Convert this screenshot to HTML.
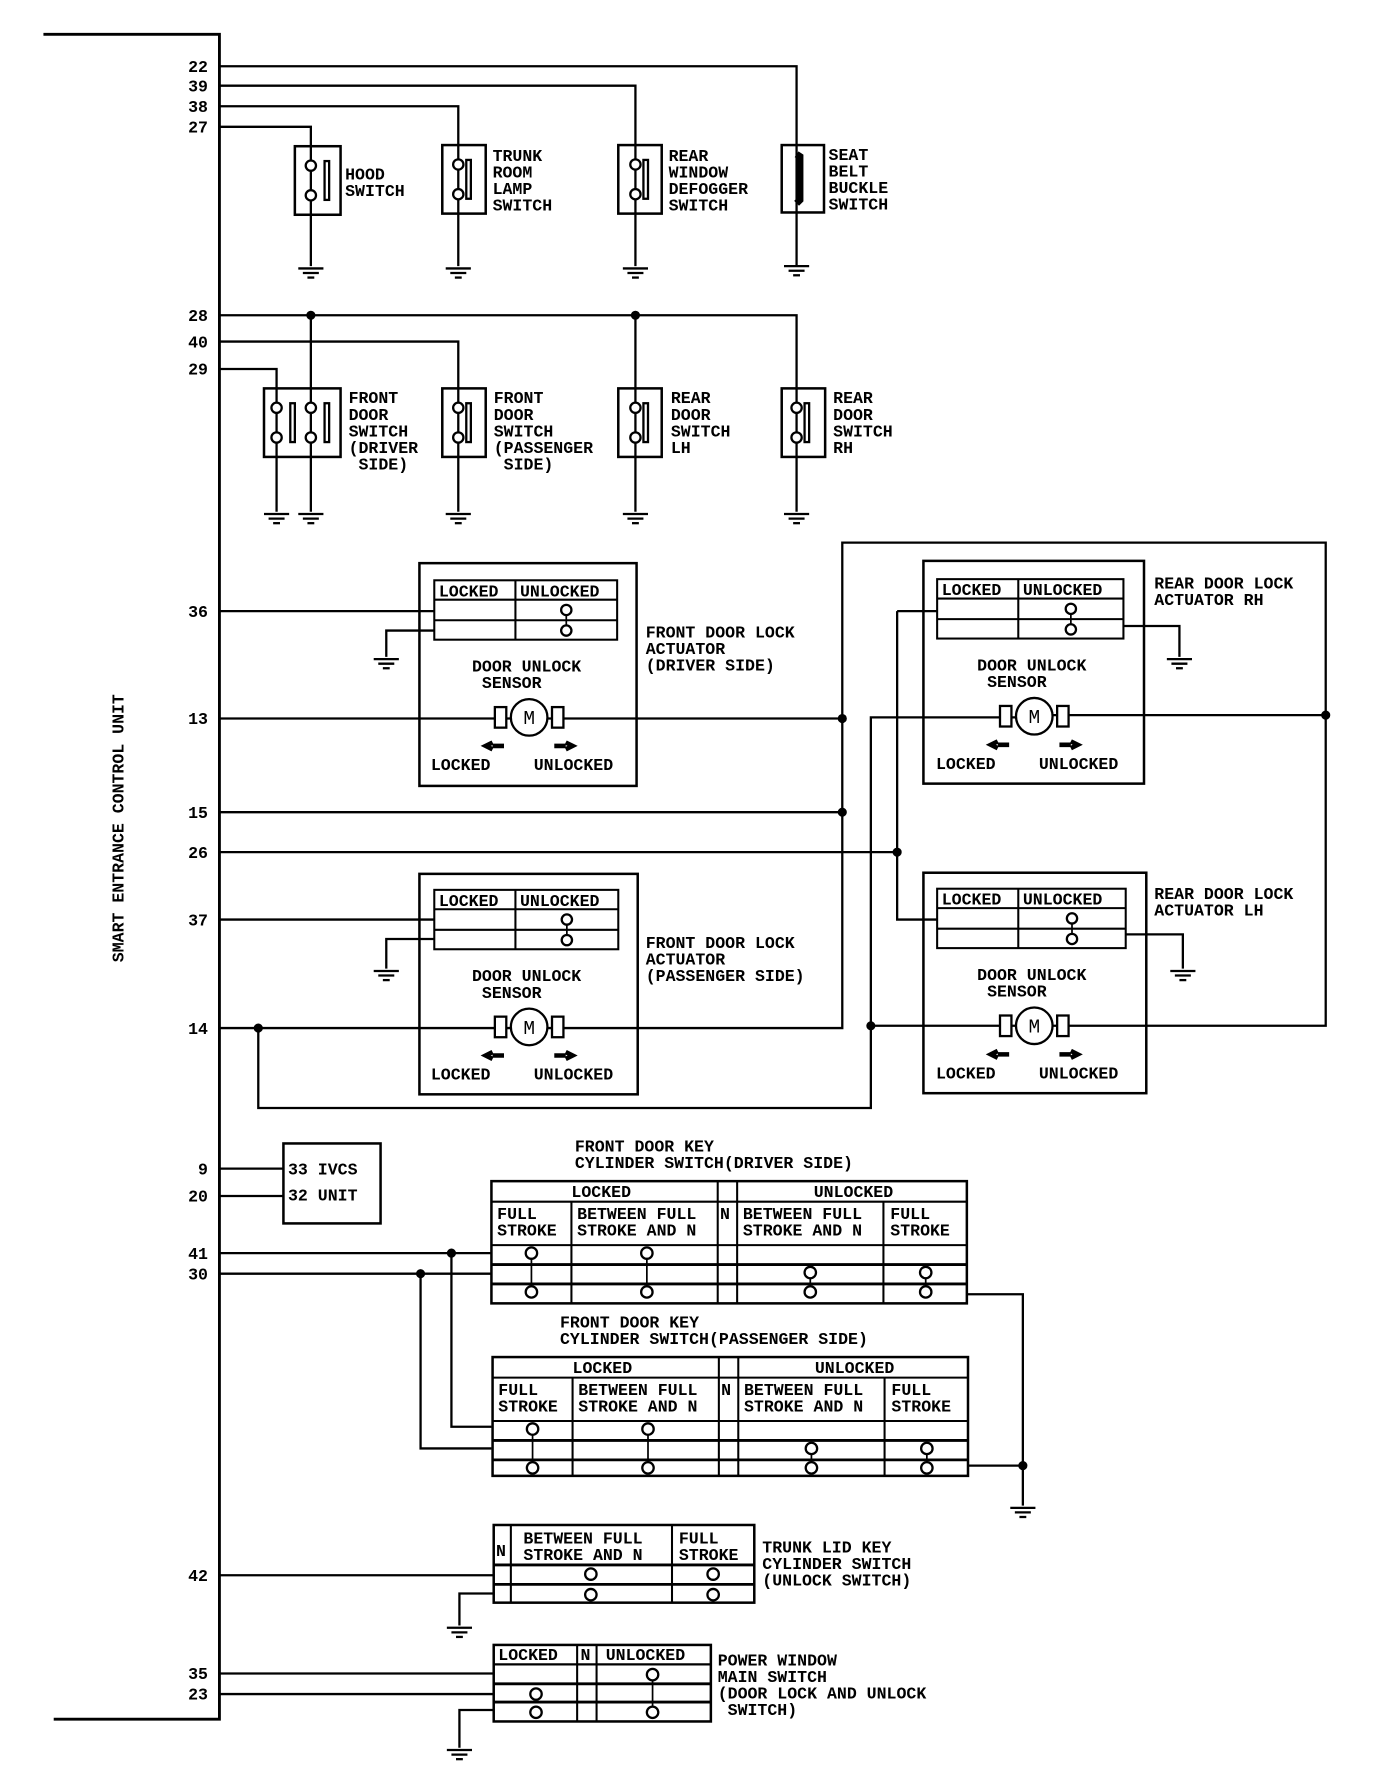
<!DOCTYPE html>
<html><head><meta charset="utf-8"><style>
html,body{margin:0;padding:0;background:#fff;width:1376px;height:1790px;overflow:hidden}
svg{display:block}
text{font-family:"Liberation Mono",monospace;font-weight:bold;font-size:14.5px;fill:#000}
</style></head><body>
<svg id="s" width="1376" height="1790" viewBox="0 0 1204 1567" preserveAspectRatio="none" xmlns="http://www.w3.org/2000/svg"></svg>
<script>
var o='';
function L(p,w){o+='<polyline points="'+p+'" fill="none" stroke="#000" stroke-width="'+(w||2)+'"/>';}
function R(x,y,w,h,sw){o+='<rect x="'+x+'" y="'+y+'" width="'+w+'" height="'+h+'" fill="none" stroke="#000" stroke-width="'+(sw||2.2)+'"/>';}
function C(x,y,r,f){o+='<circle cx="'+x+'" cy="'+y+'" r="'+r+'" fill="'+(f||'#fff')+'" stroke="#000" stroke-width="2"/>';}
function D(x,y){C(x,y,3,'#000');}
function T(x,y,s,a){var ls=s.split('|');for(var i=0;i<ls.length;i++)o+='<text x="'+x+'" y="'+(y+i*14.5)+'"'+(a?' text-anchor="'+a+'"':'')+'>'+ls[i].replace(/ /g,'&#160;')+'</text>';}
function G(x,y){L(x-11+','+y+' '+(x+11)+','+y);L(x-7+','+(y+4)+' '+(x+7)+','+(y+4));L(x-3+','+(y+8)+' '+(x+3)+','+(y+8));}
function P(n,y){T(182,y+5,n,'end');}
L('38,30 192,30 192,1505 47,1505',2.5);
o+='<text transform="translate(108,725) rotate(-90)" text-anchor="middle">SMART ENTRANCE CONTROL UNIT</text>';
P('22',58);P('39',75);P('38',93);P('27',111);
L('192,58 697,58 697,233');L('192,75 556,75 556,233');L('192,93 401,93 401,233');L('192,111 272,111 272,233');
function SW(x,y,w,cx,bx){R(x,y,w,60);C(cx,y+17,4.5);C(cx,y+43,4.5);o+='<rect x="'+bx+'" y="'+(y+13)+'" width="4" height="34" fill="none" stroke="#000" stroke-width="2"/>';}
SW(258,128,40,272,284);SW(387,127,38,401,408);SW(541,127,38,556,563);
R(684,127,37,59);o+='<path d="M697,135 L700,137 L700,175 L697,178" fill="none" stroke="#000" stroke-width="6"/>';
G(272,235);G(401,235);G(556,235);G(697,233);
T(302,157,'HOOD|SWITCH');T(431,141,'TRUNK|ROOM|LAMP|SWITCH');T(585,141,'REAR|WINDOW|DEFOGGER|SWITCH');T(725,140,'SEAT|BELT|BUCKLE|SWITCH');
P('28',276);P('40',299);P('29',323);
L('192,276 697,276 697,448');L('192,299 401,299 401,448');L('192,323 242,323 242,448');L('272,276 272,448');L('556,276 556,448');
D(272,276);D(556,276);
R(231,340,67,60);C(242,357,4.5);C(242,383,4.5);C(272,357,4.5);C(272,383,4.5);
o+='<rect x="254" y="353" width="4" height="34" fill="none" stroke="#000" stroke-width="2"/><rect x="284" y="353" width="4" height="34" fill="none" stroke="#000" stroke-width="2"/>';
SW(387,340,38,401,408);SW(541,340,38,556,563);SW(684,340,38,697,704);
G(242,450);G(272,450);G(401,450);G(556,450);G(697,450);
T(305,353,'FRONT|DOOR|SWITCH|(DRIVER| SIDE)');T(432,353,'FRONT|DOOR|SWITCH|(PASSENGER| SIDE)');T(587,353,'REAR|DOOR|SWITCH|LH');T(729,353,'REAR|DOOR|SWITCH|RH');
function ACT(bx,by,bw,bh,tx,ty,tw,mx,my){R(bx,by,bw,bh);R(tx,ty,tw,52,1.8);L(tx+','+(ty+17)+' '+(tx+tw)+','+(ty+17),1.8);L(tx+','+(ty+35)+' '+(tx+tw)+','+(ty+35),1.8);
var cd=tx+71;L(cd+','+ty+' '+cd+','+(ty+52),1.8);T(tx+4,ty+14,'LOCKED');T(cd+4,ty+14,'UNLOCKED');var cc=cd+(tw-71)/2;L(cc+','+(ty+22)+' '+cc+','+(ty+47),1.5);C(cc,ty+26,4.5);C(cc,ty+44,4.5);
T(mx-50,my-40,'DOOR UNLOCK| SENSOR');o+='<rect x="'+(mx-30)+'" y="'+(my-9)+'" width="10" height="18" fill="#fff" stroke="#000" stroke-width="2"/><rect x="'+(mx+20)+'" y="'+(my-9)+'" width="10" height="18" fill="#fff" stroke="#000" stroke-width="2"/>';C(mx,my,16);o+='<text x="'+mx+'" y="'+(my+6)+'" text-anchor="middle" style="font-size:17px;font-weight:normal">M</text>';
o+='<path d="M'+(mx-22)+','+(my+25)+' l-10,0 m0,-3 l-6,3 l6,3" stroke="#000" stroke-width="4" fill="none"/><path d="M'+(mx+22)+','+(my+25)+' l10,0 m0,-3 l6,3 l-6,3" stroke="#000" stroke-width="4" fill="none"/>';
T(mx-86,my+46,'LOCKED');T(mx+4,my+46,'UNLOCKED');}
P('36',535);P('13',629);P('15',711);P('26',746);P('37',805);P('14',900);
L('192,535 380,535');L('380,552 338,552 338,575');G(338,577);
L('192,629 737,629');L('192,711 737,711');L('192,746 785,746');L('192,805 380,805');L('380,822 338,822 338,848');G(338,850);
L('192,900 737,900 737,475 1160,475 1160,898 905,898');L('226,900 226,970 762,970 762,628 905,628');L('905,626 1160,626');L('762,898 905,898');
L('785,535 820,535');L('785,535 785,805 820,805');L('983,548 1032,548 1032,575');G(1032,577);L('985,818 1035,818 1035,848');G(1035,850);
D(737,629);D(737,711);D(785,746);D(226,900);D(762,898);D(1160,626);
ACT(367,493,190,195,380,508,160,463,628);
ACT(367,765,191,193,380,779,161,463,899);
ACT(808,491,193,195,820,507,163,905,627);
ACT(808,764,195,193,820,778,165,905,898);
T(565,558,'FRONT DOOR LOCK|ACTUATOR|(DRIVER SIDE)');T(565,830,'FRONT DOOR LOCK|ACTUATOR|(PASSENGER SIDE)');
T(1010,515,'REAR DOOR LOCK|ACTUATOR RH');T(1010,787,'REAR DOOR LOCK|ACTUATOR LH');
P('9',1023);P('20',1047);L('192,1023 248,1023');L('192,1047 248,1047');R(248,1001,85,70);T(252,1028,'33 IVCS');T(252,1051,'32 UNIT');
function KEY(x,y,ttl,tx){var r=x+416;var h=y>1100?104:107;R(x,y,416,h);
L(x+','+(y+18)+' '+r+','+(y+18),1.8);L(x+','+(y+56)+' '+r+','+(y+56),1.8);L(x+','+(y+73)+' '+r+','+(y+73),2.5);L(x+','+(y+90)+' '+r+','+(y+90),2.5);
[70,198,215,343].forEach(function(c){L((x+c)+','+(c==198||c==215?y:y+18)+' '+(x+c)+','+(y+h),1.8);});
T(x+70,y+14,'LOCKED');T(x+282,y+14,'UNLOCKED');T(x+5,y+33,'FULL|STROKE');T(x+75,y+33,'BETWEEN FULL|STROKE AND N');T(x+200,y+33,'N');T(x+220,y+33,'BETWEEN FULL|STROKE AND N');T(x+349,y+33,'FULL|STROKE');
[35,136].forEach(function(c){L((x+c)+','+(y+63)+' '+(x+c)+','+(y+97),1.5);C(x+c,y+63,5);C(x+c,y+97,5);});
[279,380].forEach(function(c){L((x+c)+','+(y+80)+' '+(x+c)+','+(y+97),1.5);C(x+c,y+80,5);C(x+c,y+97,5);});
T(tx,y-26,ttl);}
P('41',1097);P('30',1115);
L('192,1097 430,1097');L('192,1115 430,1115');L('395,1097 395,1249 430,1249');L('368,1115 368,1268 430,1268');D(395,1097);D(368,1115);
L('846,1133 895,1133 895,1318');L('847,1283 895,1283');D(895,1283);G(895,1320);
KEY(430,1034,'FRONT DOOR KEY|CYLINDER SWITCH(DRIVER SIDE)',503);
KEY(431,1188,'FRONT DOOR KEY|CYLINDER SWITCH(PASSENGER SIDE)',490);
P('42',1379);L('192,1379 432,1379');L('432,1395 402,1395 402,1423');G(402,1425);
R(432,1335,228,68);L('432,1370 660,1370',2.5);L('432,1387 660,1387',2.5);L('447,1335 447,1403',1.8);L('588,1335 588,1403',1.8);
T(434,1362,'N');T(458,1351,'BETWEEN FULL|STROKE AND N');T(594,1351,'FULL|STROKE');
[517,624].forEach(function(c){C(c,1378,5);C(c,1396,5);});
T(667,1359,'TRUNK LID KEY|CYLINDER SWITCH|(UNLOCK SWITCH)');
P('35',1465);P('23',1483);L('192,1465 432,1465');L('192,1483 432,1483');L('432,1497 402,1497 402,1530');G(402,1532);
R(432,1440,190,67);L('432,1457 622,1457',2);L('432,1474 622,1474',2.5);L('432,1490 622,1490',2.5);L('505,1440 505,1507',1.8);L('522,1440 522,1507',1.8);
T(436,1453,'LOCKED');T(508,1453,'N');T(530,1453,'UNLOCKED');
L('571,1466 571,1499',1.5);C(571,1466,5);C(571,1499,5);C(469,1483,5);C(469,1499,5);
T(628,1458,'POWER WINDOW|MAIN SWITCH|(DOOR LOCK AND UNLOCK| SWITCH)');
document.getElementById('s').innerHTML=o;
</script>
</body></html>
